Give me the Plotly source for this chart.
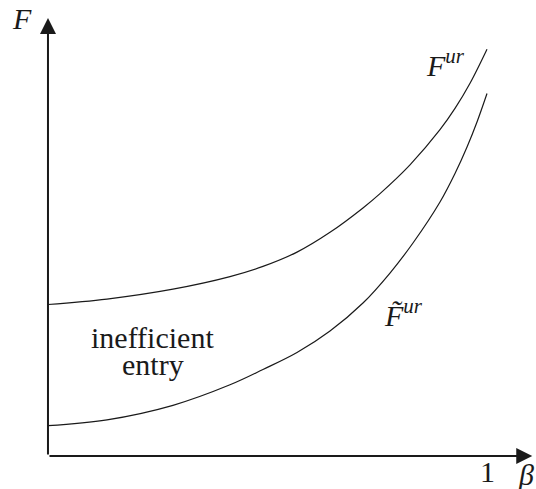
import plotly.graph_objects as go

# upper curve F^ur
beta_upper = [0.0, 0.1344, 0.2847, 0.4146, 0.4897, 0.5672, 0.6424, 0.7175, 0.7563, 0.8246, 0.8929, 0.9271, 0.9613, 1.0]
f_upper = [0.3459, 0.3584, 0.3810, 0.4096, 0.4329, 0.4655, 0.5107, 0.5664, 0.5991, 0.6648, 0.7450, 0.7936, 0.8511, 0.9288]

# lower curve F~^ur
beta_lower = [0.0, 0.1344, 0.2847, 0.4146, 0.4897, 0.5672, 0.6424, 0.7175, 0.7790, 0.8314, 0.8929, 0.9271, 0.9545, 0.9772, 1.0]
f_lower = [0.0692, 0.0826, 0.1158, 0.1626, 0.1975, 0.2363, 0.2854, 0.3493, 0.4178, 0.4863, 0.5799, 0.6450, 0.7055, 0.7626, 0.8276]

x_tick_vals = [1]
x_tick_text = ["1"]

INK = "#1a1a1a"
SERIF = "Liberation Serif, DejaVu Serif, serif"

fig = go.Figure()

for bx, fy in [(beta_upper, f_upper), (beta_lower, f_lower)]:
    fig.add_trace(go.Scatter(x=bx, y=fy, mode="lines", line=dict(color=INK, width=1.2, shape="spline", smoothing=1.0),
                             hoverinfo="skip", showlegend=False))

# axes with arrows
axis_arrows = [dict(x=1.103, y=0, ax=0, ay=0), dict(x=0, y=1.0, ax=0, ay=0)]
for a in axis_arrows:
    fig.add_annotation(x=a["x"], y=a["y"], ax=a["ax"], ay=a["ay"], xref="x", yref="y", axref="x", ayref="y",
                       text="", showarrow=True, arrowhead=2, arrowsize=1.6, arrowwidth=2, arrowcolor=INK)

labels = [
    dict(x=-0.059, y=1.0, text="<i>F</i>", size=30),
    dict(x=0.905, y=0.897, text="<i>F</i><sup><i>ur</i></sup>", size=30),
    dict(x=0.810, y=0.327, text="<i>F\u0303</i><sup><i>ur</i></sup>", size=30),
    dict(x=x_tick_vals[0], y=-0.035, text=x_tick_text[0], size=30),
    dict(x=1.089, y=-0.043, text="<i>β</i>", size=30),
    dict(x=0.239, y=0.270, text="inefficient", size=30),
    dict(x=0.240, y=0.210, text="entry", size=30),
]
for lb in labels:
    fig.add_annotation(x=lb["x"], y=lb["y"], xref="x", yref="y", text=lb["text"], showarrow=False,
                       xanchor="center", yanchor="middle", font=dict(family=SERIF, size=lb["size"], color=INK))

fig.update_layout(
    width=536, height=489,
    margin=dict(l=0, r=0, t=0, b=0, autoexpand=False),
    font=dict(family=SERIF, color=INK),
    paper_bgcolor="white", plot_bgcolor="white",
    xaxis=dict(range=[-0.1093, 1.1116], visible=False, fixedrange=True),
    yaxis=dict(range=[-0.0753, 1.0411], visible=False, fixedrange=True),
)

# the page body has a default 8px margin; drop it so the figure fills the window
fig.write_html("out.html", config={"displayModeBar": False},
               post_script="document.body.style.margin='0';")
